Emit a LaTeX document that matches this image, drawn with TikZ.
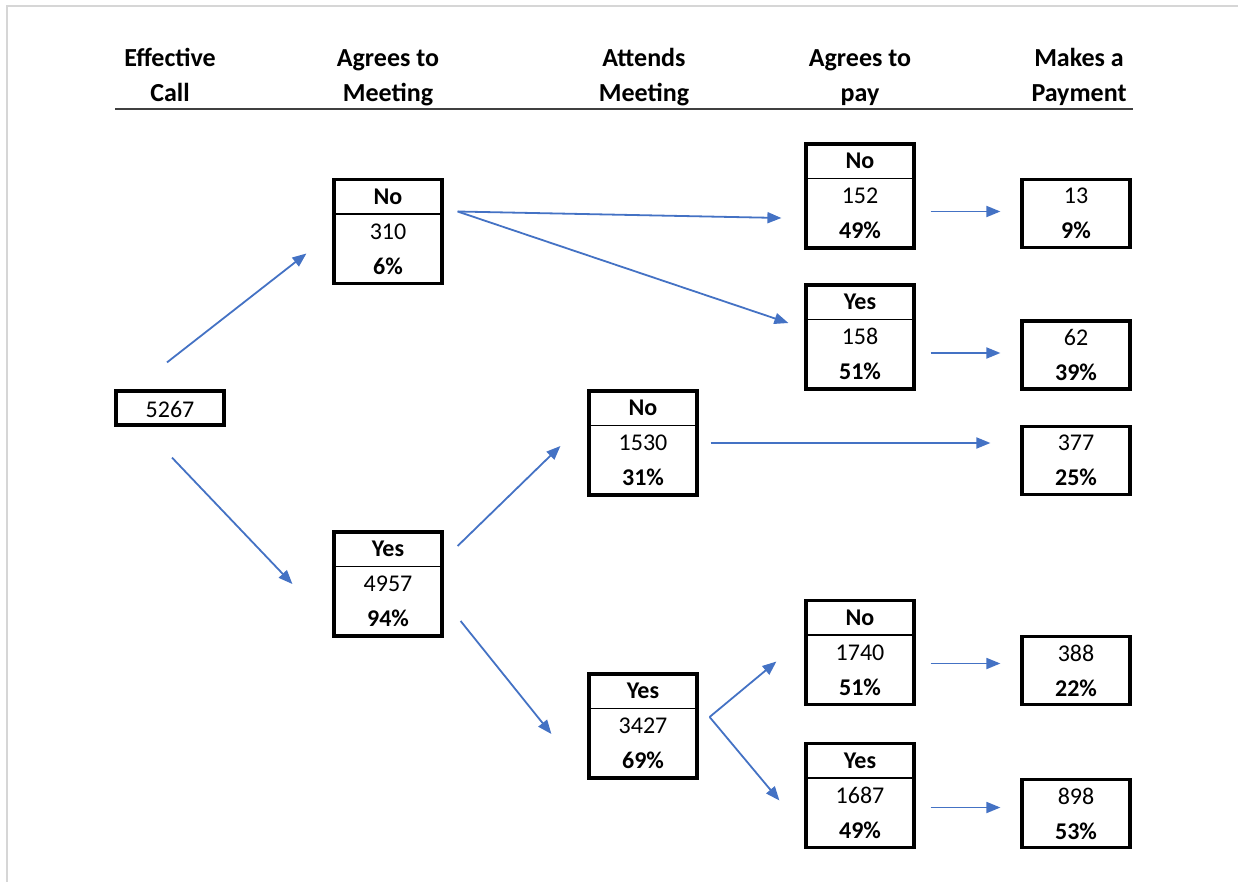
\documentclass[tikz,border=0pt]{standalone}
\usepackage{fontspec}
\setmainfont{Carlito}
\usepackage{tikz}
\usetikzlibrary{arrows.meta}
\usetikzlibrary{calc}
\usetikzlibrary{positioning}

\definecolor{arrblue}{HTML}{4472C4}
\definecolor{framegrey}{HTML}{D6D6D6}
\definecolor{rulegrey}{HTML}{404040}

\begin{document}
\begin{tikzpicture}[x=1pt, y=1pt,
    colhead/.style={align=center, font=\fontsize{26}{35}\selectfont\bfseries},
    tribox/.style={draw, line width=3.2pt, minimum width=108pt, minimum height=104pt,
      inner sep=0pt, align=center, font=\fontsize{24}{35}\selectfont,
      execute at begin node=\rule{0pt}{20pt}},
    duobox/.style={tribox, minimum height=68pt},
    divider/.style={line width=1.4pt},
    arr/.style={-{Triangle[length=14pt,width=11pt]}, draw=arrblue, line width=1.8pt}]
    \useasboundingbox (0,0) rectangle (1238,-882);
    \draw[framegrey, line width=2pt] (1238,-6) -- (7,-6) -- (7,-882);

    \node[colhead] (h1) at (170,-77) {Effective\strut\\Call\strut};
    \node[colhead] (h2) at (388,-77) {Agrees to\strut\\Meeting\strut};
    \node[colhead] (h3) at (644,-77) {Attends\strut\\Meeting\strut};
    \node[colhead] (h4) at (860,-77) {Agrees to\strut\\pay\strut};
    \node[colhead] (h5) at (1079,-77) {Makes a\strut\\Payment\strut};
    \coordinate (ruleL) at (115,-109);
    \coordinate (ruleR) at (1133,-109);
    \draw[rulegrey, line width=2.4pt] (ruleL) -- (ruleR);

    \node[tribox, minimum height=34pt, execute at begin node={}] (call) at (170,-408) {5267};

    \node[tribox] (meetNo) at (388,-231.5) {\textbf{No}\\310\\\textbf{6\%}};
    \node[tribox] (meetYes) at (388,-584) {\textbf{Yes}\\4957\\\textbf{94\%}};

    \node[tribox] (attNo) at (643,-443) {\textbf{No}\\1530\\\textbf{31\%}};
    \node[tribox] (attYes) at (643,-726) {\textbf{Yes}\\3427\\\textbf{69\%}};

    \node[tribox] (payNo) at (860,-196) {\textbf{No}\\152\\\textbf{49\%}};
    \node[tribox] (payYes) at (860,-337) {\textbf{Yes}\\158\\\textbf{51\%}};
    \node[tribox] (payNoB) at (860,-652.5) {\textbf{No}\\1740\\\textbf{51\%}};
    \node[tribox] (payYesB) at (860,-795.5) {\textbf{Yes}\\1687\\\textbf{49\%}};

    \node[duobox] (m13) at (1076,-213.5) {13\\\textbf{9\%}};
    \node[duobox] (m62) at (1076,-355) {62\\\textbf{39\%}};
    \node[duobox] (m377) at (1076,-460.5) {377\\\textbf{25\%}};
    \node[duobox] (m388) at (1076,-670.5) {388\\\textbf{22\%}};
    \node[duobox] (m898) at (1076,-813.5) {898\\\textbf{53\%}};

    \foreach\n in {meetNo,meetYes,attNo,attYes,payNo,payYes,payNoB,payYesB}{
      \draw[divider] ([yshift=-36pt]\n.north west) -- ([yshift=-36pt]\n.north east);
    }

    \draw[arr] ($(call.north)+(-3,27)$) -- ($(meetNo.west)+(-26,-22)$);
    \draw[arr] ($(call.south)+(2,-31)$) -- ($(meetYes.west)+(-40,0)$);
    \draw[arr] ($(meetNo.east)+(14,20)$) -- ($(payNo.west)+(-23,-22)$);
    \draw[arr] ($(meetNo.east)+(14,20)$) -- ($(payYes.west)+(-16,14)$);
    \draw[arr] ($(meetYes.east)+(14,38)$) -- ($(attNo.west)+(-27,-3)$);
    \draw[arr] ($(meetYes.east)+(17,-37)$) -- ($(attYes.west)+(-36,-8)$);
    \draw[arr, shorten <=12pt, shorten >=30pt] (attNo.east) -- (attNo.east -| m377.west);
    \draw[arr] ($(attYes.east)+(11,9)$) -- ($(payNoB.west)+(-28,-9)$);
    \draw[arr] ($(attYes.east)+(11,9)$) -- ($(payYesB.west)+(-25,-5)$);
    \foreach\a/\b/\d in {payNo/m13/2, payYes/m62/2, payNoB/m388/7, payYesB/m898/6}{
      \draw[arr, shorten <=15pt, shorten >=20pt] ($(\a.east |- \b.west)+(0,\d)$) -- ($(\b.west)+(0,\d)$);
    }
\end{tikzpicture}
\end{document}
